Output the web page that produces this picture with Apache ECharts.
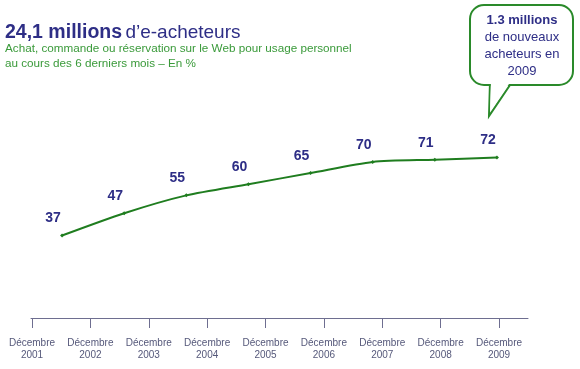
<!DOCTYPE html>
<html><head><meta charset="utf-8">
<script src="https://cdn.jsdelivr.net/npm/echarts@6/dist/echarts.min.js"></script>
<style>html,body{margin:0;padding:0;background:#fff}#c{width:580px;height:369px}</style>
</head><body><div id="c"></div>
<script>
const pointCategories = ['P1','P2','P3','P4','P5','P6','P7','P8'];
const values = [37, 47, 55, 60, 65, 70, 71, 72];
const tickLabels = ['Décembre\n2001','Décembre\n2002','Décembre\n2003','Décembre\n2004','Décembre\n2005','Décembre\n2006','Décembre\n2007','Décembre\n2008','Décembre\n2009'];
const titleBold = '24,1 millions';
const titleRest = 'd’e-acheteurs';
const subtitle = 'Achat, commande ou réservation sur le Web pour usage personnel\nau cours des 6 derniers mois – En %';
const calloutBold = '1.3 millions';
const calloutRest = 'de nouveaux\nacheteurs en\n2009';

const chart = echarts.init(document.getElementById('c'));
const navy = '#2e2e86';
const green = '#1f7d1f';
const font = 'Liberation Sans, Arial, sans-serif';
chart.setOption({
  animation: false,
  backgroundColor: '#fff',
  textStyle: { fontFamily: font },
  grid: [
    { left: 31, width: 497, top: 95, height: 223 },
    { left: 32, width: 467, top: 95, height: 223 }
  ],
  xAxis: [
    { type: 'category', gridIndex: 0, data: pointCategories, boundaryGap: true,
      axisLine: { show: true, lineStyle: { color: '#6e6e90', width: 1 } },
      axisTick: { show: false }, axisLabel: { show: false }, splitLine: { show: false } },
    { type: 'category', gridIndex: 1, data: tickLabels, boundaryGap: false,
      axisLine: { show: false },
      axisTick: { show: true, length: 10, alignWithLabel: true, lineStyle: { color: '#6e6e90', width: 1 } },
      axisLabel: { show: true, interval: 0, margin: 19, fontSize: 10, lineHeight: 12, color: '#55587a', fontFamily: font },
      splitLine: { show: false } }
  ],
  yAxis: [
    { type: 'value', gridIndex: 0, min: 0, max: 100, show: false },
    { type: 'value', gridIndex: 1, min: 0, max: 100, show: false }
  ],
  series: [{
    type: 'line', xAxisIndex: 0, yAxisIndex: 0, data: values,
    smooth: 0.25,
    lineStyle: { color: green, width: 2 },
    itemStyle: { color: green },
    symbol: 'diamond', symbolSize: 4,
    label: { show: true, position: 'top', distance: 5, offset: [-9, -3],
      fontSize: 14, fontWeight: 'bold', color: navy, fontFamily: font }
  }],
  graphic: [
    { type: 'text', left: 5, top: 23, style: {
        text: '{b|' + titleBold + '} {n|' + titleRest + '}',
        rich: {
          b: { fontSize: 19.5, fontWeight: 'bold', fill: navy, fontFamily: font },
          n: { fontSize: 19, fill: navy, fontFamily: font }
        } } },
    { type: 'text', left: 5, top: 42, style: {
        text: subtitle, fontSize: 11.7, lineHeight: 14.5, fill: '#3a9a3a', fontFamily: font } },
    { type: 'polygon', shape: { points: [[490,82],[489,116],[512,82]] },
      style: { fill: '#fff', stroke: '#2a8a2a', lineWidth: 2 }, z: 10 },
    { type: 'rect', shape: { x: 470, y: 5, width: 103, height: 80, r: 14 },
      style: { fill: '#fff', stroke: '#2a8a2a', lineWidth: 2 }, z: 11 },
    { type: 'polygon', shape: { points: [[491,81],[490,112],[511,81]] },
      style: { fill: '#fff', stroke: null }, z: 12 },
    { type: 'text', x: 522, y: 12, z: 13, style: {
        text: '{b|' + calloutBold + '}\n{n|' + calloutRest.split('\n').join('}\n{n|') + '}',
        align: 'center',
        rich: {
          b: { fontSize: 13, fontWeight: 'bold', fill: navy, lineHeight: 17, align: 'center', fontFamily: font },
          n: { fontSize: 13, fill: navy, lineHeight: 17, align: 'center', fontFamily: font }
        } } }
  ]
});
</script></body></html>
